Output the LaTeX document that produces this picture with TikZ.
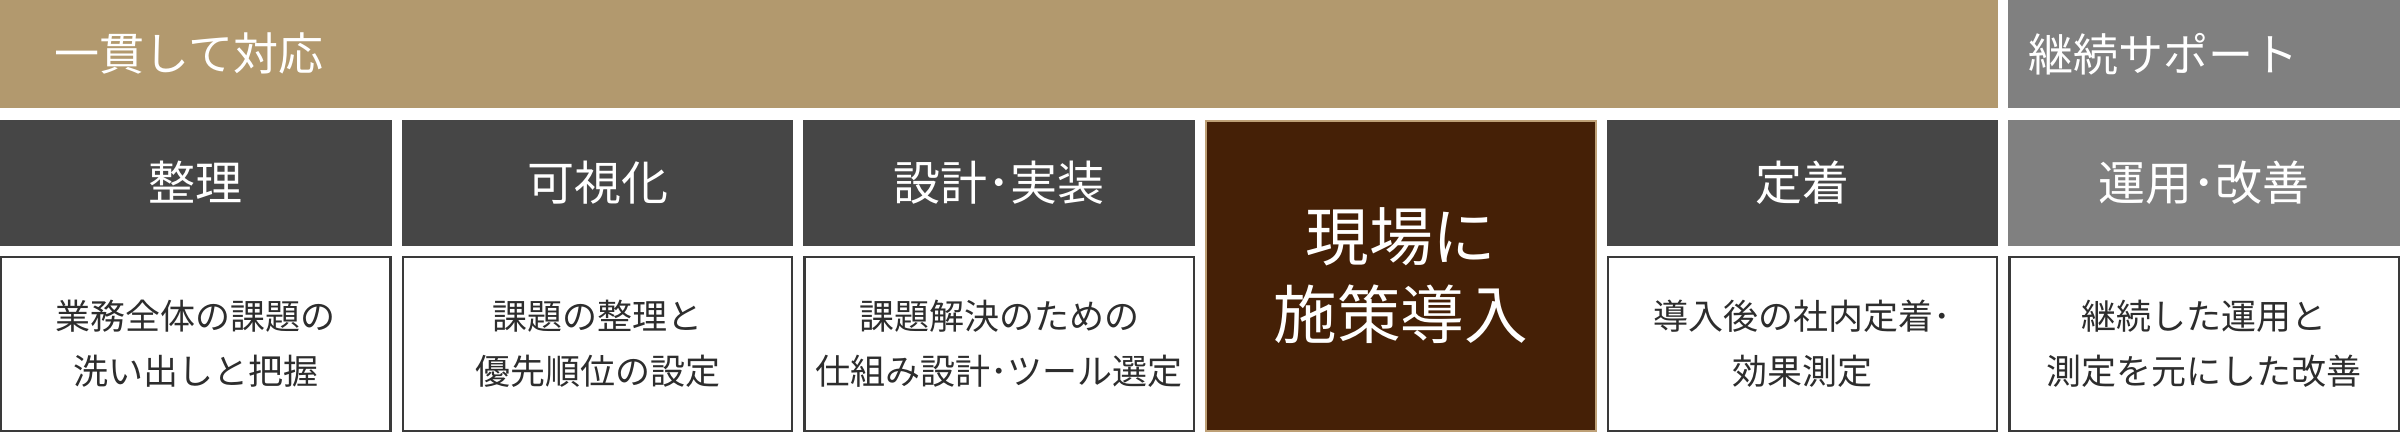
\documentclass[tikz,border=0pt]{standalone}
\usepackage{fontspec}
\setmainfont{Noto Sans CJK JP}

\definecolor{bargold}{RGB}{178,153,110}
\definecolor{bargray}{RGB}{128,128,128}
\definecolor{headdark}{RGB}{70,70,70}
\definecolor{stepbrown}{RGB}{69,32,6}
\definecolor{steptan}{RGB}{190,160,118}
\definecolor{bodyline}{RGB}{58,58,58}
\definecolor{bodytext}{RGB}{45,45,45}

\tikzset{every picture/.style={line width=0.75pt}}
\tikzset{
	topbar/.style={inner ysep=0pt, minimum height=26.9pt, align=left, text=white, font=\fontsize{11.25pt}{13pt}\selectfont},
	headbox/.style={fill=headdark, text=white, inner sep=0pt, minimum width=97.9pt, minimum height=31.55pt, font=\fontsize{11.75pt}{14pt}\selectfont},
	bodybox/.style={draw=bodyline, line width=0.625pt, fill=white, text=bodytext, inner sep=0pt, minimum width=97.3pt, minimum height=43.4pt, align=center, font=\fontsize{8.75pt}{13.75pt}\selectfont},
	keybox/.style={draw=steptan, line width=0.5pt, fill=stepbrown, text=white, inner sep=0pt, minimum width=97.5pt, minimum height=77.6pt, align=center, font=\fontsize{15.9pt}{19.5pt}\selectfont}
}

\begin{document}
\begin{tikzpicture}[x=0.25pt,y=0.25pt,yscale=-1,xscale=1]
		\useasboundingbox (0,0) rectangle (2400,433);
		
		%Top bars
		\node [topbar, fill=bargold, inner xsep=13.75pt, text width=472.1pt] (ikkan) at (999.15,53.75) {一貫して対応};
		\node [topbar, fill=bargray, inner xsep=5pt, text width=88pt] (keizoku) at (2204.15,53.75) {継続サポート};
		
		%Step headers
		\node [headbox] (seiri) at (195.85,182.6) {整理};
		\node [headbox] (kashika) at (597.5,182.6) {可視化};
		\node [headbox] (sekkei) at (999.2,182.6) {設計･実装};
		\node [headbox] (teichaku) at (1802.5,182.6) {定着};
		\node [headbox, fill=bargray] (unyou) at (2204.15,182.6) {運用･改善};
		
		%Key step
		\node [keybox] (dounyu) at (1400.8,275.8) {現場に\\施策導入};
		
		%Step bodies
		\node [bodybox] (seiribody) at (195.85,344) {業務全体の課題の\\洗い出しと把握};
		\node [bodybox] (kashikabody) at (597.5,344) {課題の整理と\\優先順位の設定};
		\node [bodybox] (sekkeibody) at (999.2,344) {課題解決のための\\仕組み設計･ツール選定};
		\node [bodybox] (teichakubody) at (1802.5,344) {導入後の社内定着･\\効果測定};
		\node [bodybox] (unyoubody) at (2204.15,344) {継続した運用と\\測定を元にした改善};
		
\end{tikzpicture}
\end{document}
